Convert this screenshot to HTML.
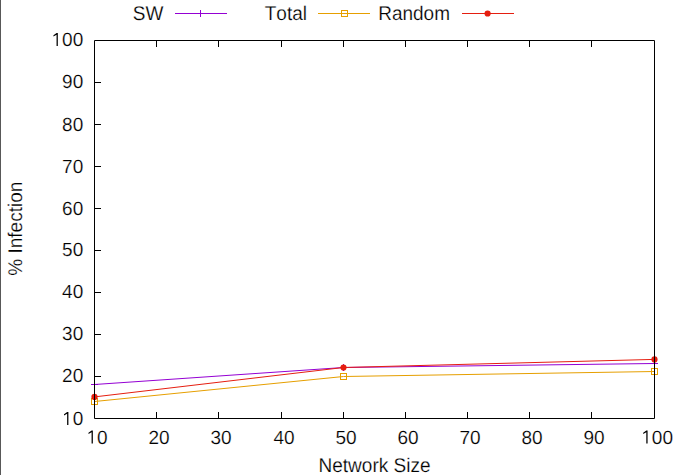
<!DOCTYPE html><html><head><meta charset="utf-8"><style>html,body{margin:0;padding:0;background:#fff;width:674px;height:475px;overflow:hidden}svg{display:block;position:absolute;left:0;top:0}text{font-family:"Liberation Sans",sans-serif;font-size:19px;fill:#000;font-kerning:none;text-rendering:geometricPrecision;stroke:#fff;stroke-width:0.2px}</style></head><body>
<svg width="674" height="475" viewBox="0 0 674 475">
<rect x="0" y="0" width="674" height="475" fill="#fff"/>
<rect x="0" y="0" width="1" height="475" fill="#585858"/>
<text transform="translate(163.40,19.50) scale(1,1.045)" text-anchor="end">SW</text>
<line x1="175.0" y1="13.5" x2="227.0" y2="13.5" stroke="#9400d3" stroke-width="1"/>
<path d="M197.0 13.5H204.0M200.5 10.0V17.0" stroke="#9400d3" stroke-width="1" fill="none"/>
<text transform="translate(307.00,19.50) scale(1,1.045)" text-anchor="end">Total</text>
<line x1="318.0" y1="13.5" x2="370.0" y2="13.5" stroke="#e69f00" stroke-width="1"/>
<rect x="341.5" y="10.5" width="6" height="6" stroke="#e69f00" stroke-width="1" fill="none"/>
<text transform="translate(450.00,19.50) scale(1,1.045)" text-anchor="end">Random</text>
<line x1="462.0" y1="13.5" x2="514.0" y2="13.5" stroke="#e51e10" stroke-width="1"/>
<circle cx="487.6" cy="13.5" r="3.1" fill="#e51e10"/>
<polyline points="94.50,384.50 343.50,367.50 654.50,363.50" stroke="#9400d3" stroke-width="1" fill="none"/>
<path d="M91.0 384.5H98.0M94.5 381.0V388.0" stroke="#9400d3" stroke-width="1" fill="none"/>
<path d="M340.0 367.5H347.0M343.5 364.0V371.0" stroke="#9400d3" stroke-width="1" fill="none"/>
<path d="M651.0 363.5H658.0M654.5 360.0V367.0" stroke="#9400d3" stroke-width="1" fill="none"/>
<polyline points="94.50,401.50 343.50,376.50 654.50,371.50" stroke="#e69f00" stroke-width="1" fill="none"/>
<rect x="91.5" y="398.5" width="6" height="6" stroke="#e69f00" stroke-width="1" fill="none"/>
<rect x="340.5" y="373.5" width="6" height="6" stroke="#e69f00" stroke-width="1" fill="none"/>
<rect x="651.5" y="368.5" width="6" height="6" stroke="#e69f00" stroke-width="1" fill="none"/>
<polyline points="94.50,396.90 343.50,367.50 654.50,359.40" stroke="#e51e10" stroke-width="1" fill="none"/>
<circle cx="94.5" cy="396.9" r="3.1" fill="#e51e10"/>
<circle cx="343.5" cy="367.5" r="3.1" fill="#e51e10"/>
<circle cx="654.5" cy="359.4" r="3.1" fill="#e51e10"/>
<path d="M94.5 40.5H654.5V418.5H94.5Z" stroke="#000" stroke-width="1" fill="none"/>
<path d="M156.5 418.5V412M156.5 40.5V47M218.5 418.5V412M218.5 40.5V47M281.5 418.5V412M281.5 40.5V47M343.5 418.5V412M343.5 40.5V47M405.5 418.5V412M405.5 40.5V47M467.5 418.5V412M467.5 40.5V47M529.5 418.5V412M529.5 40.5V47M591.5 418.5V412M591.5 40.5V47M94.5 376.5H101M94.5 334.5H101M94.5 292.5H101M94.5 250.5H101M94.5 208.5H101M94.5 166.5H101M94.5 124.5H101M94.5 82.5H101" stroke="#000" stroke-width="1" fill="none"/>
<path transform="translate(62.07,425.00) scale(0.00928,-0.00928)" d="M545 0V1220L210 1035V1160L550 1409H682V0Z" fill="#000"/>
<text transform="translate(72.63,425.00) scale(1,1.000)" text-anchor="start">0</text>
<text transform="translate(62.07,382.00) scale(1,1.000)" text-anchor="start">2</text>
<text transform="translate(72.63,382.00) scale(1,1.000)" text-anchor="start">0</text>
<text transform="translate(62.07,340.00) scale(1,1.000)" text-anchor="start">3</text>
<text transform="translate(72.63,340.00) scale(1,1.000)" text-anchor="start">0</text>
<text transform="translate(62.07,298.00) scale(1,1.000)" text-anchor="start">4</text>
<text transform="translate(72.63,298.00) scale(1,1.000)" text-anchor="start">0</text>
<text transform="translate(62.07,256.00) scale(1,1.000)" text-anchor="start">5</text>
<text transform="translate(72.63,256.00) scale(1,1.000)" text-anchor="start">0</text>
<text transform="translate(62.07,214.90) scale(1,1.000)" text-anchor="start">6</text>
<text transform="translate(72.63,214.90) scale(1,1.000)" text-anchor="start">0</text>
<text transform="translate(62.07,172.70) scale(1,1.000)" text-anchor="start">7</text>
<text transform="translate(72.63,172.70) scale(1,1.000)" text-anchor="start">0</text>
<text transform="translate(62.07,130.90) scale(1,1.000)" text-anchor="start">8</text>
<text transform="translate(72.63,130.90) scale(1,1.000)" text-anchor="start">0</text>
<text transform="translate(62.07,88.00) scale(1,1.000)" text-anchor="start">9</text>
<text transform="translate(72.63,88.00) scale(1,1.000)" text-anchor="start">0</text>
<path transform="translate(51.50,46.00) scale(0.00928,-0.00928)" d="M545 0V1220L210 1035V1160L550 1409H682V0Z" fill="#000"/>
<text transform="translate(62.07,46.00) scale(1,1.000)" text-anchor="start">0</text>
<text transform="translate(72.63,46.00) scale(1,1.000)" text-anchor="start">0</text>
<path transform="translate(86.53,443.60) scale(0.00928,-0.00928)" d="M545 0V1220L210 1035V1160L550 1409H682V0Z" fill="#000"/>
<text transform="translate(97.10,443.60) scale(1,1.000)" text-anchor="start">0</text>
<text transform="translate(148.53,443.60) scale(1,1.000)" text-anchor="start">2</text>
<text transform="translate(159.10,443.60) scale(1,1.000)" text-anchor="start">0</text>
<text transform="translate(210.53,443.60) scale(1,1.000)" text-anchor="start">3</text>
<text transform="translate(221.10,443.60) scale(1,1.000)" text-anchor="start">0</text>
<text transform="translate(273.53,443.60) scale(1,1.000)" text-anchor="start">4</text>
<text transform="translate(284.10,443.60) scale(1,1.000)" text-anchor="start">0</text>
<text transform="translate(335.53,443.60) scale(1,1.000)" text-anchor="start">5</text>
<text transform="translate(346.10,443.60) scale(1,1.000)" text-anchor="start">0</text>
<text transform="translate(397.53,443.60) scale(1,1.000)" text-anchor="start">6</text>
<text transform="translate(408.10,443.60) scale(1,1.000)" text-anchor="start">0</text>
<text transform="translate(459.53,443.60) scale(1,1.000)" text-anchor="start">7</text>
<text transform="translate(470.10,443.60) scale(1,1.000)" text-anchor="start">0</text>
<text transform="translate(521.53,443.60) scale(1,1.000)" text-anchor="start">8</text>
<text transform="translate(532.10,443.60) scale(1,1.000)" text-anchor="start">0</text>
<text transform="translate(583.53,443.60) scale(1,1.000)" text-anchor="start">9</text>
<text transform="translate(594.10,443.60) scale(1,1.000)" text-anchor="start">0</text>
<path transform="translate(641.25,443.60) scale(0.00928,-0.00928)" d="M545 0V1220L210 1035V1160L550 1409H682V0Z" fill="#000"/>
<text transform="translate(651.82,443.60) scale(1,1.000)" text-anchor="start">0</text>
<text transform="translate(662.38,443.60) scale(1,1.000)" text-anchor="start">0</text>
<text transform="translate(374.50,472.00) scale(1,1.045)" text-anchor="middle">Network Size</text>
<text transform="translate(22.00,228.70) rotate(-90) scale(1,1.045)" text-anchor="middle">% Infection</text>
</svg></body></html>
